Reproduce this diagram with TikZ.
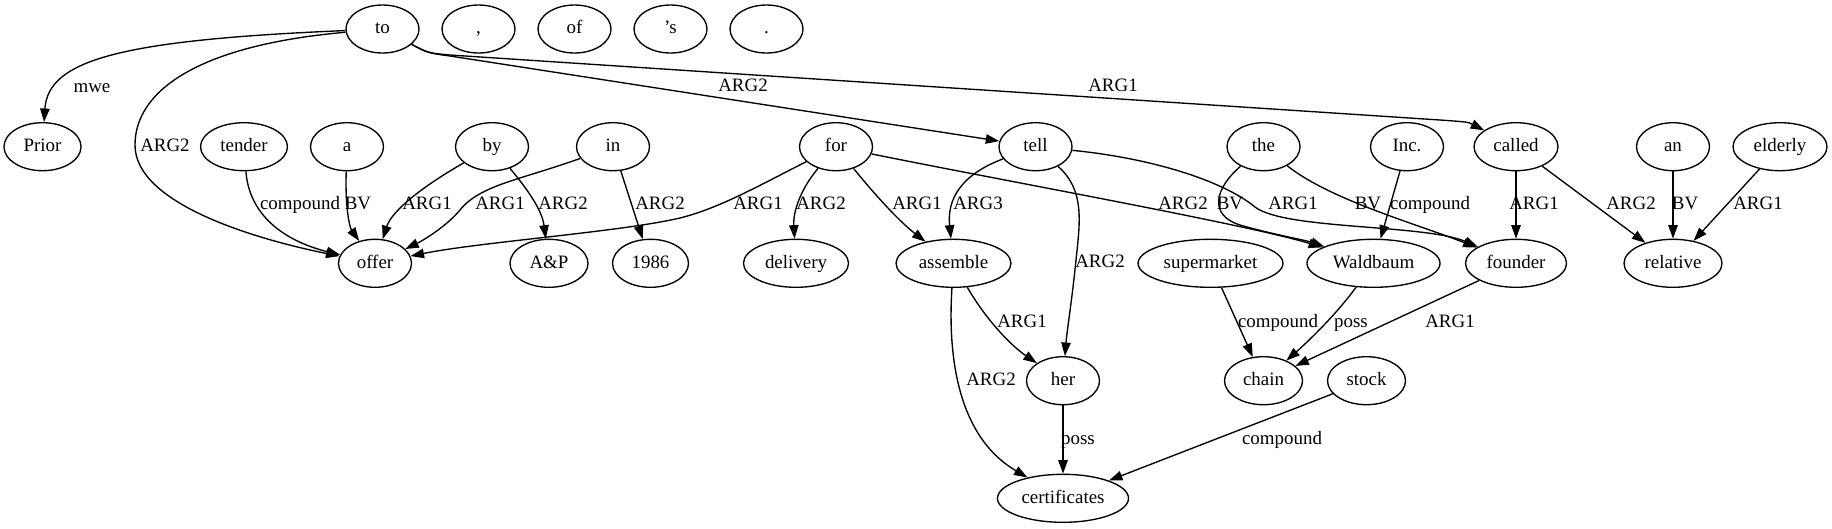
\documentclass[tikz,border=0pt]{standalone}
\usepackage{fontspec}
\setmainfont{Liberation Serif}
\usetikzlibrary{arrows.meta,shapes.geometric}
\begin{document}
\begin{tikzpicture}[x=0.7396pt,y=-0.7396pt,
  nd/.style={draw,ellipse,line width=1pt,minimum width=54pt,minimum height=35.5pt,inner sep=0pt,text height=9.5pt,text depth=2.5pt,font=\fontsize{14pt}{16pt}\selectfont},
  lb/.style={inner sep=0pt,text height=9.5pt,text depth=2.5pt,font=\fontsize{14pt}{16pt}\selectfont},
  arr/.style={draw,line width=1pt,-{Triangle[length=10pt,width=7pt]}}]
\useasboundingbox (0,0) rectangle (1832,528);
% row 1
\node[nd] (nto) at (382.5,29) {to};
\node[nd] (ncomma) at (478.5,29) {,};
\node[nd] (nof) at (574.5,29) {of};
\node[nd] (naps) at (670.5,29) {’s};
\node[nd] (ndot) at (766.5,29) {.};
% row 2
\node[nd,minimum width=57pt] (nprior) at (42.5,146.7) {Prior};
\node[nd,minimum width=64.3pt] (ntender) at (244,146.7) {tender};
\node[nd] (na) at (347,146.7) {a};
\node[nd] (nby) at (492,146.7) {by};
\node[nd] (nin) at (613,146.7) {in};
\node[nd] (nfor) at (836,146.7) {for};
\node[nd] (ntell) at (1035.5,146.7) {tell};
\node[nd] (nthe) at (1263.5,146.7) {the};
\node[nd] (ninc) at (1407,146.7) {Inc.};
\node[nd,minimum width=62.1pt] (ncalled) at (1516,146.7) {called};
\node[nd] (nan) at (1673,146.7) {an};
\node[nd,minimum width=69.5pt] (nelderly) at (1780,146.7) {elderly};
% row 3
\node[nd] (noffer) at (375,263.3) {offer};
\node[nd,minimum width=57.7pt] (nap) at (549,263.3) {A\&P};
\node[nd,minimum width=56.2pt] (nyear) at (650.5,263.3) {1986};
\node[nd,minimum width=77.7pt] (ndelivery) at (796,263.3) {delivery};
\node[nd,minimum width=85pt] (nassemble) at (953.5,263.3) {assemble};
\node[nd,minimum width=107.2pt] (nsuper) at (1210.5,263.3) {supermarket};
\node[nd,minimum width=98.4pt] (nwald) at (1373.5,263.3) {Waldbaum};
\node[nd,minimum width=74.7pt] (nfounder) at (1516,263.3) {founder};
\node[nd,minimum width=72.5pt] (nrelative) at (1673,263.3) {relative};
% row 4
\node[nd] (nher) at (1063,380.7) {her};
\node[nd,minimum width=57.7pt] (nchain) at (1263.5,380.7) {chain};
\node[nd,minimum width=57.7pt] (nstock) at (1366.5,380.7) {stock};
% row 5
\node[nd,minimum width=96.9pt] (ncert) at (1063,498.3) {certificates};

% edges
\draw[arr] (nto) .. controls (120,40) and (48,60) .. (nprior);
\draw[arr] (nto) .. controls (200,45) and (135,90) .. (135,145) .. controls (135,205) and (260,240) .. (noffer);
\draw[arr] (nto) .. controls (428,53) .. (450,56) -- (ntell);
\draw[arr] (nto) .. controls (428,53) .. (450,55) -- (1440,120) .. controls (1468,122) .. (ncalled);
\draw[arr] (ntender) .. controls (250,225) and (300,245) .. (noffer);
\draw[arr] (na) .. controls (345,210) and (350,228) .. (noffer);
\draw[arr] (nby) .. controls (425,185) and (392,210) .. (noffer);
\draw[arr] (nin) .. controls (520,180) and (480,185) .. (460,210) .. controls (445,228) and (420,242) .. (noffer);
\draw[arr] (nby) .. controls (528,190) and (542,210) .. (nap);
\draw[arr] (nin) -- (nyear);
\draw[arr] (nfor) .. controls (760,185) and (720,208) .. (680,218) .. controls (620,232) and (480,242) .. (noffer);
\draw[arr] (nfor) .. controls (800,190) and (793,212) .. (ndelivery);
\draw[arr] (nfor) .. controls (875,195) and (900,222) .. (nassemble);
\draw[arr] (nfor) .. controls (1000,180) and (1250,225) .. (nwald);
\draw[arr] (ntell) .. controls (960,175) and (947,200) .. (nassemble);
\draw[arr] (ntell) .. controls (1085,190) and (1080,222) .. (1076,260) .. controls (1072,300) and (1067,330) .. (nher);
\draw[arr] (ntell) .. controls (1150,158) and (1222,180) .. (1255,207) .. controls (1285,230) and (1425,224) .. (nfounder);
\draw[arr] (nthe) .. controls (1215,188) and (1208,215) .. (1240,225) .. controls (1275,235) and (1305,240) .. (nwald);
\draw[arr] (nthe) .. controls (1330,200) and (1420,225) .. (nfounder);
\draw[arr] (ninc) -- (nwald);
\draw[arr] (ncalled) -- (nfounder);
\draw[arr] (ncalled) -- (nrelative);
\draw[arr] (nan) -- (nrelative);
\draw[arr] (nelderly) -- (nrelative);
\draw[arr] (nassemble) .. controls (985,318) and (1010,345) .. (nher);
\draw[arr] (nassemble) .. controls (948,350) and (955,435) .. (ncert);
\draw[arr] (nher) -- (ncert);
\draw[arr] (nsuper) -- (nchain);
\draw[arr] (nwald) .. controls (1338,312) and (1312,338) .. (nchain);
\draw[arr] (nfounder) -- (nchain);
\draw[arr] (nstock) -- (ncert);

% labels
\node[lb] (l1) at (92,88) {mwe};
\node[lb] (l2) at (165,147) {ARG2};
\node[lb] (l3) at (743,87) {ARG2};
\node[lb] (l4) at (1113,87) {ARG1};
\node[lb] (l5) at (300,205) {compound};
\node[lb] (l6) at (358,205) {BV};
\node[lb] (l7) at (427,205) {ARG1};
\node[lb] (l8) at (500,205) {ARG1};
\node[lb] (l9) at (563,205) {ARG2};
\node[lb] (l10) at (660,205) {ARG2};
\node[lb] (l11) at (758,205) {ARG1};
\node[lb] (l12) at (821,205) {ARG2};
\node[lb] (l13) at (917,205) {ARG1};
\node[lb] (l14) at (978,205) {ARG3};
\node[lb] (l15) at (1183,205) {ARG2};
\node[lb] (l16) at (1230,205) {BV};
\node[lb] (l17) at (1293,205) {ARG1};
\node[lb] (l18) at (1368,205) {BV};
\node[lb] (l19) at (1430,205) {compound};
\node[lb] (l20) at (1534,205) {ARG1};
\node[lb] (l21) at (1631,205) {ARG2};
\node[lb] (l22) at (1685,205) {BV};
\node[lb] (l23) at (1758,205) {ARG1};
\node[lb] (l24) at (1100,263) {ARG2};
\node[lb] (l25) at (1022,323) {ARG1};
\node[lb] (l26) at (1278,323) {compound};
\node[lb] (l27) at (1351,323) {poss};
\node[lb] (l28) at (1450,323) {ARG1};
\node[lb] (l29) at (991,381) {ARG2};
\node[lb] (l30) at (1078,440) {poss};
\node[lb] (l31) at (1282,440) {compound};
\end{tikzpicture}
\end{document}
